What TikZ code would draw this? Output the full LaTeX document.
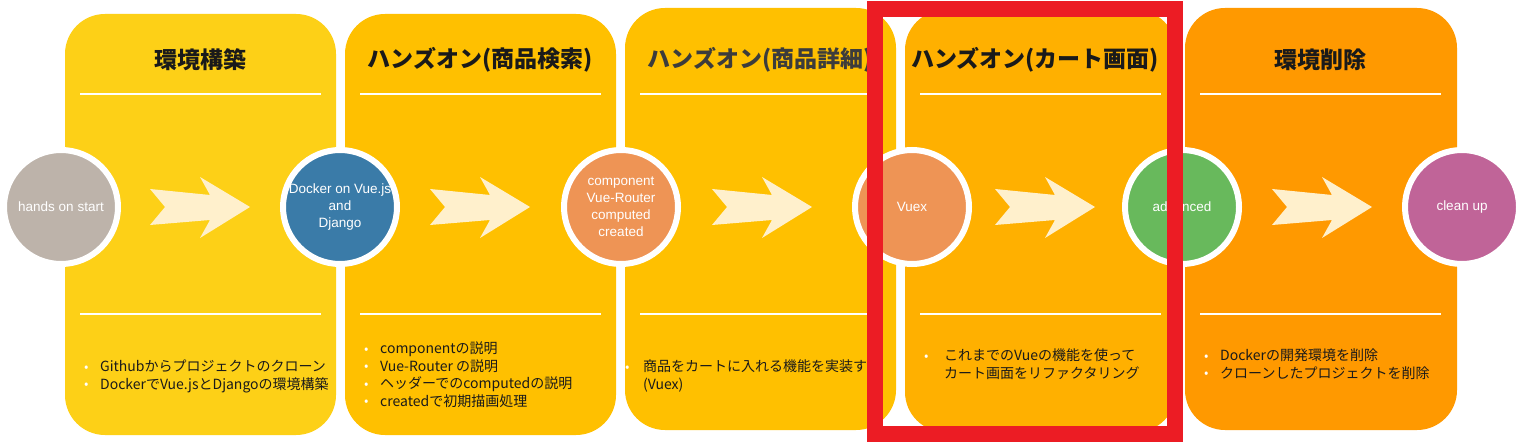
\documentclass[tikz,border=0pt]{standalone}
\usepackage{fontspec}
\setmainfont{Noto Sans CJK JP}
\newfontfamily\labfont{Liberation Sans}
\usetikzlibrary{positioning}
\definecolor{panelA}{HTML}{FDD017}
\definecolor{panelB}{HTML}{FFC000}
\definecolor{panelC}{HTML}{FFB000}
\definecolor{panelD}{HTML}{FF9900}
\definecolor{arrowc}{HTML}{FFF0CC}
\definecolor{greyc}{HTML}{BDB3AA}
\definecolor{bluec}{HTML}{3A7BA8}
\definecolor{orangec}{HTML}{EE9455}
\definecolor{greenc}{HTML}{68B95C}
\definecolor{pinkc}{HTML}{C06498}
\definecolor{redc}{HTML}{EC1C24}
\definecolor{inkc}{HTML}{1A1A1A}
\tikzset{
  panel/.style={rounded corners=40pt},
  sep/.style={white,line width=2pt},
  head/.style={font=\fontsize{23}{26}\selectfont\bfseries,text=inkc,inner sep=0pt},
  lst/.style={font=\fontsize{14}{17.5}\selectfont,text=inkc,align=left,anchor=north west,inner sep=0pt},
  stage/.style={circle,draw=white,line width=6pt,minimum size=114pt,inner sep=-8pt,align=center,text=white,font=\labfont\fontsize{13.5}{17}\selectfont},
  chev/.style={fill=arrowc}
}
\newcommand{\dotmark}{\raisebox{0.5pt}{\color{white}\fontsize{13}{13}\selectfont\textbullet}}
\newcommand{\itm}{\makebox[16pt][l]{\dotmark}}

\begin{document}
\begin{tikzpicture}[x=1pt,y=-1pt]
\useasboundingbox (0,0) rectangle (1522,443);
\fill[white] (0,0) rectangle (1522,443);
% panels
\fill[panelA,panel] (65,14) rectangle (336,435);
\fill[panelB,panel] (345,14) rectangle (616,435);
\fill[panelB,panel] (625,8) rectangle (896,430);
\fill[panelC,panel] (905,10) rectangle (1176,432);
\fill[panelD,panel] (1185,8) rectangle (1457,430);
\foreach \px in {65,345,625,905,1185}{
  \draw[sep] (\px+15,94) -- (\px+256,94);
  \draw[sep] (\px+15,314) -- (\px+256,314);
}
% titles
\node[head] (h1) at (200,60) {環境構築};
\node[head] (h2) at (480,60) {ハンズオン(商品検索)};
\node[head,text=inkc!85] (h3) at (760,60) {ハンズオン(商品詳細)};
\node[head] (h4) at (1035,60) {ハンズオン(カート画面)};
\node[head] (h5) at (1320,60) {環境削除};
% lists
\node[lst] (l1) at (84,360) {\itm Githubからプロジェクトのクローン\\\itm DockerでVue.jsとDjangoの環境構築};
\node[lst] (l2) at (364,342) {\itm componentの説明\\\itm Vue-Router の説明\\\itm ヘッダーでのcomputedの説明\\\itm createdで初期描画処理};
\node[lst] (l3) at (625,360) {\makebox[18pt][l]{\dotmark}商品をカートに入れる機能を実装する\\\hspace*{18pt}(Vuex)};
\node[lst] (l4) at (924,349) {\makebox[20pt][l]{\dotmark}これまでのVueの機能を使って\\\hspace*{20pt}カート画面をリファクタリング};
\node[lst] (l5) at (1204,349) {\itm Dockerの開発環境を削除\\\itm クローンしたプロジェクトを削除};
% arrows
\foreach \ax in {150,430,712,995,1272}
  \fill[chev] (\ax,189) -- (\ax+60,195) -- (\ax+50,177) -- (\ax+100,207) -- (\ax+50,238) -- (\ax+60,220) -- (\ax,225) -- (\ax+15,207) -- cycle;
% stages
\node[stage,fill=greyc] (s1) at (61,207) {hands on start};
\node[stage,fill=bluec] (s2) at (340,207) {Docker on Vue.js\\and\\Django};
\node[stage,fill=orangec] (s3) at (621,207) {component\\Vue-Router\\computed\\created};
\node[stage,fill=orangec] (s4) at (912,207) {Vuex};
\node[stage,fill=greenc] (s5) at (1182,207) {advanced};
\node[stage,fill=pinkc] (s6) at (1462,207) {clean up};
% highlight
\draw[redc,line width=16pt] (875,9) rectangle (1175,434);
\end{tikzpicture}
\end{document}
